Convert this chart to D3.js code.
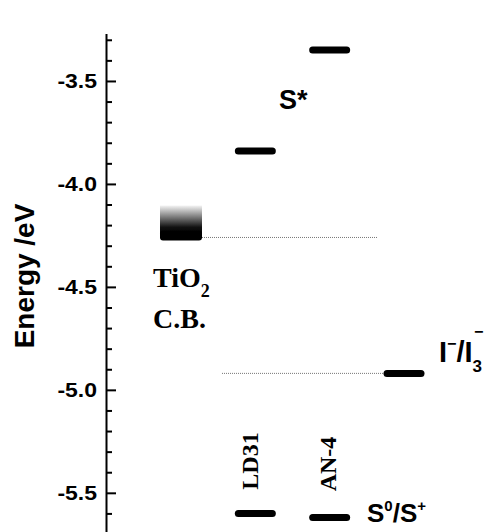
<!DOCTYPE html>
<html><head><meta charset="utf-8">
<script src="https://cdn.jsdelivr.net/npm/d3@7"></script>
<style>body{margin:0;background:#fff}</style>
</head><body>
<svg id="c" width="489" height="532"></svg>
<script>
// data
const categories = ["TiO2", "LD31", "AN-4", "I-/I3-"];
const dyes = ["LD31", "AN-4"];
const sStar = [-3.84, -3.35];      // excited state levels
const sGround = [-5.60, -5.62];    // S0/S+ levels
const tio2CB = -4.26;
const redox = -4.92;
const majorTicks = [-5.5, -5.0, -4.5, -4.0, -3.5];
const minorTicks = [-5.7,-5.6,-5.4,-5.3,-5.2,-5.1,-4.9,-4.8,-4.7,-4.6,-4.4,-4.3,-4.2,-4.1,-3.9,-3.8,-3.7,-3.6,-3.4,-3.3];

const svg = d3.select("#c");
const y = d3.scaleLinear().domain([-5.7, -3.27]).range([534, 33.6]);
const x = d3.scalePoint().domain(categories).range([181, 404]);
const axisX = 106;
const barW = 41;

// axis
const ga = svg.append("g").attr("transform", `translate(${axisX},0)`);
ga.call(d3.axisLeft(y).tickValues(majorTicks).tickSizeInner(-10).tickSizeOuter(0).tickPadding(9).tickFormat(d3.format(".1f")));
ga.select(".domain").attr("stroke-width", 2);
ga.selectAll(".tick line").attr("stroke-width", 2);
ga.selectAll(".tick text").attr("font-family", "Liberation Sans, Arial, sans-serif").attr("font-weight", "bold").attr("font-size", 20).attr("fill", "#000")
  .attr("transform", "scale(1.15,1)").attr("x", -9/1.15)
  .text(d => d3.format(".1f")(d).replace("−", "-"));
const gm = svg.append("g").attr("transform", `translate(${axisX},0)`);
gm.call(d3.axisLeft(y).tickValues(minorTicks).tickSizeInner(-6).tickSizeOuter(0).tickFormat(""));
gm.select(".domain").remove();
gm.selectAll(".tick line").attr("stroke-width", 2);

svg.append("text").attr("transform", "translate(34,276) rotate(-90)")
  .attr("text-anchor", "middle").attr("font-family", "Liberation Sans, Arial, sans-serif")
  .attr("font-weight", "bold").attr("font-size", 28).text("Energy /eV");

// TiO2 gradient block
const defs = svg.append("defs");
const grad = defs.append("linearGradient").attr("id", "g1").attr("x1", 0).attr("y1", 0).attr("x2", 0).attr("y2", 1);
grad.append("stop").attr("offset", "0%").attr("stop-color", "#f4f4f4");
grad.append("stop").attr("offset", "75%").attr("stop-color", "#111");
grad.append("stop").attr("offset", "100%").attr("stop-color", "#000");
const cx0 = x("TiO2");
svg.append("rect").attr("x", cx0 - 21).attr("y", y(tio2CB) - 32).attr("width", 42).attr("height", 29).attr("fill", "url(#g1)");
svg.append("rect").attr("x", cx0 - 21).attr("y", y(tio2CB) - 7).attr("width", 42).attr("height", 10).attr("rx", 3).attr("fill", "#000");

// dotted guide lines
svg.append("line").attr("x1", cx0 + 21).attr("x2", 377).attr("y1", y(tio2CB)).attr("y2", y(tio2CB))
  .attr("stroke", "#777").attr("stroke-width", 1).attr("stroke-dasharray", "1,1");
svg.append("line").attr("x1", 222).attr("x2", x("I-/I3-") - 21).attr("y1", y(redox)).attr("y2", y(redox))
  .attr("stroke", "#777").attr("stroke-width", 1).attr("stroke-dasharray", "1,1");

// level bars
function bar(cx, v) {
  svg.append("line").attr("x1", cx - barW/2 + 3.5).attr("x2", cx + barW/2 - 3.5)
    .attr("y1", y(v)).attr("y2", y(v)).attr("stroke", "#000").attr("stroke-width", 7).attr("stroke-linecap", "round");
}
dyes.forEach((d, i) => { bar(x(d), sStar[i]); bar(x(d), sGround[i]); });
bar(x("I-/I3-"), redox);

// labels
const sans = "Liberation Sans, Arial, sans-serif";
const serif = "Liberation Serif, Times New Roman, serif";
svg.append("text").attr("x", 279).attr("y", 109).attr("font-family", sans).attr("font-weight", "bold").attr("font-size", 27).text("S*");

const t0 = svg.append("text").attr("x", 367).attr("y", 522).attr("font-family", sans).attr("font-weight", "bold").attr("font-size", 26);
t0.append("tspan").text("S");
t0.append("tspan").attr("dy", -11).attr("font-size", 15).text("0");
t0.append("tspan").attr("dy", 11).text("/S");
t0.append("tspan").attr("dy", -11).attr("font-size", 15).text("+");

const t1 = svg.append("text").attr("x", 439).attr("y", 362).attr("font-family", sans).attr("font-weight", "bold").attr("font-size", 29);
t1.append("tspan").text("I");
t1.append("tspan").attr("dy", -13).attr("font-size", 16).text("−");
t1.append("tspan").attr("dy", 13).text("/I");
t1.append("tspan").attr("dy", 10).attr("font-size", 17).text("3");
t1.append("tspan").attr("dx", -8).attr("dy", -35).attr("font-size", 16).text("−");

const t2 = svg.append("text").attr("x", 153).attr("y", 287).attr("font-family", serif).attr("font-weight", "bold").attr("font-size", 28);
t2.append("tspan").text("TiO");
t2.append("tspan").attr("dy", 10).attr("font-size", 18).text("2");
svg.append("text").attr("x", 153).attr("y", 328).attr("font-family", serif).attr("font-weight", "bold").attr("font-size", 28).text("C.B.");

svg.append("text").attr("transform", "translate(250,461) rotate(-90)").attr("text-anchor", "middle").attr("dominant-baseline", "central")
  .attr("font-family", serif).attr("font-weight", "bold").attr("font-size", 24).text("LD31");
svg.append("text").attr("transform", "translate(328,464) rotate(-90)").attr("text-anchor", "middle").attr("dominant-baseline", "central")
  .attr("font-family", serif).attr("font-weight", "bold").attr("font-size", 24).text("AN-4");
</script>
</body></html>
